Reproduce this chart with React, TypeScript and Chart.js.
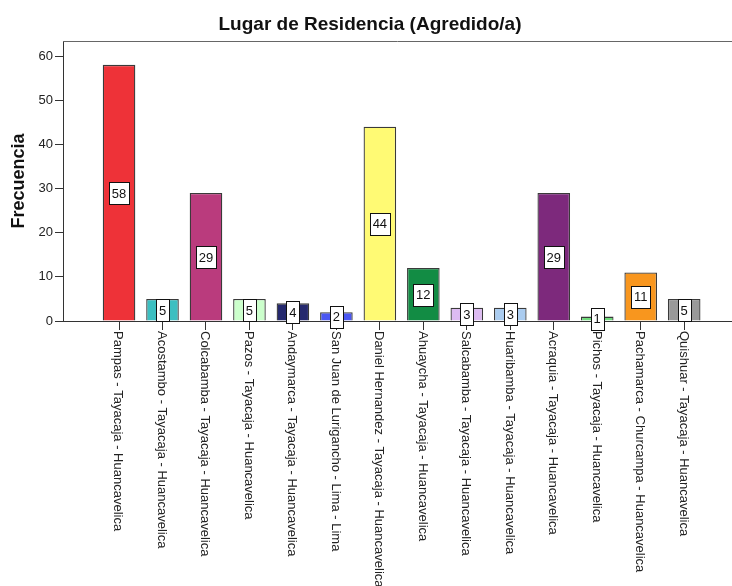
import React, { useEffect, useRef } from "react";
import { Chart, registerables } from "chart.js";

Chart.register(...registerables);

const categories: string[] = [
  "Pampas - Tayacaja - Huancavelica",
  "Acostambo - Tayacaja - Huancavelica",
  "Colcabamba - Tayacaja - Huancavelica",
  "Pazos - Tayacaja - Huancavelica",
  "Andaymarca - Tayacaja - Huancavelica",
  "San Juan de Lurigancho - Lima - Lima",
  "Daniel Hernandez - Tayacaja - Huancavelica",
  "Ahuaycha - Tayacaja - Huancavelica",
  "Salcabamba - Tayacaja - Huancavelica",
  "Huaribamba - Tayacaja - Huancavelica",
  "Acraquia - Tayacaja - Huancavelica",
  "Pichos - Tayacaja - Huancavelica",
  "Pachamarca - Churcampa - Huancavelica",
  "Quishuar - Tayacaja - Huancavelica",
];

const frecuencia: number[] = [58, 5, 29, 5, 4, 2, 44, 12, 3, 3, 29, 1, 11, 5];

const barColors: string[] = [
  "#EE3238",
  "#3CBFC1",
  "#BA3B7D",
  "#CCFFCC",
  "#25296E",
  "#4B57F2",
  "#FFFA74",
  "#128C44",
  "#DDBBF2",
  "#AACCF0",
  "#7D297C",
  "#70DC7C",
  "#F8961E",
  "#999999",
];

const yTicks: number[] = [0, 10, 20, 30, 40, 50, 60];

const TITLE = "Lugar de Residencia (Agredido/a)";
const Y_TITLE = "Frecuencia";
const FONT = 'Arial, "Liberation Sans", sans-serif';

const decorPlugin = {
  id: "decor",
  afterDraw(chart: any) {
    const { ctx, chartArea, scales } = chart;
    const xs = scales.x;
    ctx.save();
    // title
    ctx.fillStyle = "#111";
    ctx.font = `bold 19px ${FONT}`;
    ctx.textAlign = "center";
    ctx.textBaseline = "middle";
    ctx.fillText(TITLE, 370, 25);
    // y title
    ctx.save();
    ctx.translate(19, (chartArea.top + chartArea.bottom) / 2);
    ctx.rotate(-Math.PI / 2);
    ctx.font = `bold 18px ${FONT}`;
    ctx.fillText(Y_TITLE, 0, 0);
    ctx.restore();
    // top frame line
    ctx.strokeStyle = "#666";
    ctx.lineWidth = 1;
    ctx.beginPath();
    ctx.moveTo(chartArea.left, chartArea.top + 0.5);
    ctx.lineTo(chartArea.right, chartArea.top + 0.5);
    ctx.stroke();
    // x labels rotated clockwise
    ctx.fillStyle = "#222";
    ctx.font = `13px ${FONT}`;
    ctx.textAlign = "left";
    ctx.textBaseline = "middle";
    categories.forEach((lab, i) => {
      const px = xs.getPixelForValue(i);
      ctx.save();
      ctx.translate(px - 1, chartArea.bottom + 10);
      ctx.rotate(Math.PI / 2);
      ctx.fillText(lab, 0, 0);
      ctx.restore();
    });
    // value boxes
    const meta = chart.getDatasetMeta(0);
    ctx.font = `13px ${FONT}`;
    ctx.textAlign = "center";
    ctx.textBaseline = "middle";
    meta.data.forEach((bar: any, i: number) => {
      const v = frecuencia[i];
      const cx = bar.x;
      const cy = scales.y.getPixelForValue(v / 2);
      const txt = String(v);
      const w = Math.round(ctx.measureText(txt).width) + 6;
      const h = 22;
      const x0 = Math.round(cx - w / 2) + 0.5;
      const y0 = Math.round(cy - h / 2) + 0.5;
      ctx.fillStyle = "#fff";
      ctx.fillRect(x0, y0, w, h);
      ctx.strokeStyle = "#111";
      ctx.lineWidth = 1;
      ctx.strokeRect(x0, y0, w, h);
      ctx.fillStyle = "#111";
      ctx.fillText(txt, cx, cy + 1);
    });
    ctx.restore();
  },
};

export default function App() {
  const ref = useRef<HTMLCanvasElement | null>(null);
  useEffect(() => {
    document.body.style.margin = "0";
    if (!ref.current) return;
    const chart = new Chart(ref.current, {
      type: "bar",
      data: {
        datasets: [
          {
            data: frecuencia.map((v, i) => ({ x: i, y: v })),
            backgroundColor: barColors,
            borderColor: "#3a3a3a",
            borderWidth: 1.3,
            barPercentage: 0.75,
            categoryPercentage: 1,
          },
        ],
      },
      options: {
        animation: false,
        responsive: true,
        maintainAspectRatio: false,
        layout: { padding: { top: 41, left: 0, right: 0, bottom: 0 } },
        plugins: {
          legend: { display: false },
          title: { display: false },
          tooltip: { enabled: false },
        },
        scales: {
          x: {
            type: "linear",
            offset: false,
            min: -1.289,
            max: 14.1,
            afterBuildTicks(scale: any) {
              scale.ticks = categories.map((_, i) => ({ value: i }));
            },
            afterFit(scale: any) {
              scale.height = 265;
            },
            ticks: { display: false },
            grid: {
              display: true,
              offset: false,
              drawOnChartArea: false,
              drawTicks: true,
              tickLength: 9,
              color: "#333",
            },
            border: { display: true, color: "#333", width: 1 },
          },
          y: {
            min: 0,
            max: 63.4,
            afterBuildTicks(scale: any) {
              scale.ticks = yTicks.map((v) => ({ value: v }));
            },
            afterFit(scale: any) {
              scale.width = 63;
            },
            ticks: {
              color: "#222",
              font: { family: FONT, size: 13 },
              padding: 2,
            },
            grid: {
              display: true,
              drawOnChartArea: false,
              drawTicks: true,
              tickLength: 8,
              color: "#333",
            },
            border: { display: true, color: "#333", width: 1 },
          },
        },
      },
      plugins: [decorPlugin],
    });
    return () => chart.destroy();
  }, []);
  return (
    <div style={{ width: 732, height: 586, position: "relative", background: "#fff" }}>
      <canvas ref={ref} />
    </div>
  );
}
